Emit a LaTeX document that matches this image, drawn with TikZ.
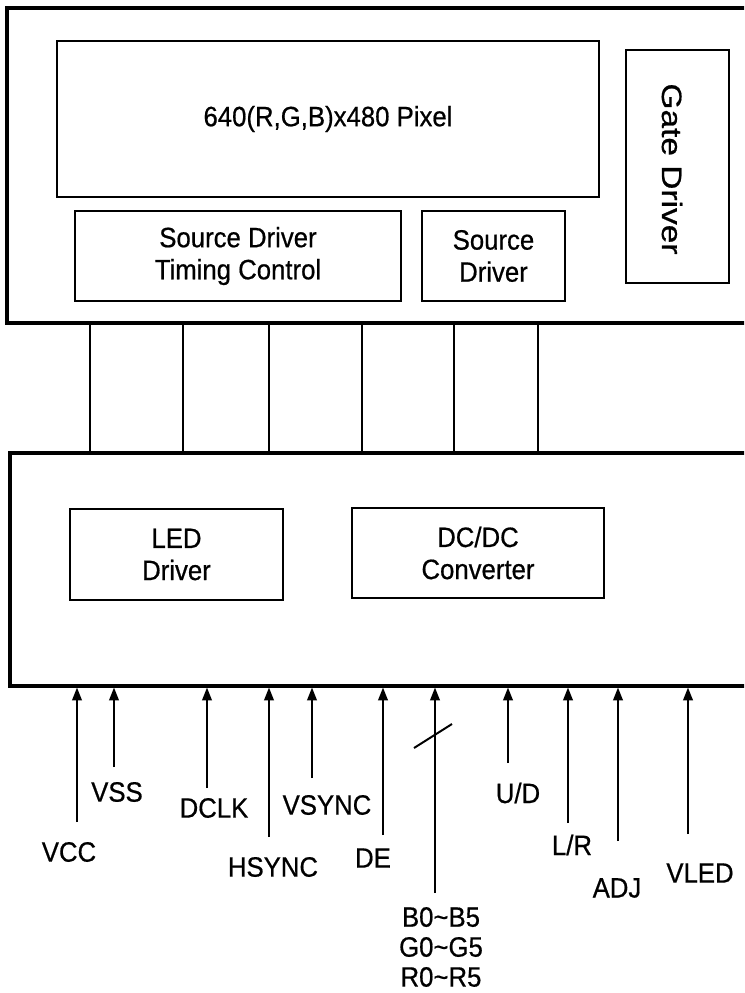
\documentclass[tikz,border=0pt]{standalone}
\usepackage{fontspec}
\setmainfont[FakeStretch=0.92,FakeBold=0.6]{Liberation Sans}
\usetikzlibrary{arrows.meta}

\tikzset{
    outerbox/.style={draw, line width=2.2pt, inner sep=0pt},
    blk/.style={draw, line width=1.8pt, inner sep=0pt, align=center, font=\fontsize{19.9}{22.8}\selectfont},
    boxsize/.style 2 args={minimum width=#1*0.025cm, minimum height=#2*0.025cm},
    lbl/.style={inner sep=0pt, align=center, font=\fontsize{19.9}{21.3}\selectfont},
    link/.style={line width=1.4pt},
    sig/.style={line width=1.4pt, ->}
}

\begin{document}
\begin{tikzpicture}[x=0.025cm,y=-0.025cm,>={Triangle[length=0.32cm,width=0.24cm]}]
    % Bounding box of the page
    \useasboundingbox (0,0) rectangle (744,993);
    \clip (0,0) rectangle (744,993);

    % Panel (upper block)
    \node[outerbox, boxsize={753}{315}] (screen) at (383.5,165.5) {};
    \node[blk, boxsize={542}{156}] (pixel) at (328,119) {640(R,G,B)x480 Pixel};
    \node[blk, boxsize={103}{233}] (gate) at (677.5,166.5) {};
    \node[lbl, rotate=-90] (gatetxt) at (672,169) {\scalebox{1.3}[1]{Gate Driver}};
    \node[blk, boxsize={326}{90}] (srctcon) at (238,256) {Source Driver\\Timing Control};
    \node[blk, boxsize={143}{90}] (srcdrv) at (493.5,256) {Source\\Driver};

    % Control board (lower block)
    \node[outerbox, boxsize={750}{233}] (ctrl) at (385,569.5) {};
    \node[blk, boxsize={213}{91}] (led) at (176.5,554.5) {LED\\Driver};
    \node[blk, boxsize={252}{90}] (dcdc) at (478,553) {DC/DC\\Converter};

    % Links between the two blocks
    \foreach \lx in {90,183,269,362,454,538} {
        \coordinate (k\lx) at (\lx,0);
        \draw[link] (screen.south -| k\lx) -- (ctrl.north -| k\lx);
    }

    % Input signals
    \coordinate (tVCC) at (77,822);
    \node[lbl] (lVCC) at (69,852) {VCC};
    \draw[sig] (tVCC) -- (tVCC |- ctrl.south);

    \coordinate (tVSS) at (114,767);
    \node[lbl] (lVSS) at (117,792) {VSS};
    \draw[sig] (tVSS) -- (tVSS |- ctrl.south);

    \coordinate (tDCLK) at (207,788);
    \node[lbl] (lDCLK) at (214,808) {DCLK};
    \draw[sig] (tDCLK) -- (tDCLK |- ctrl.south);

    \coordinate (tHSYNC) at (269,837);
    \node[lbl] (lHSYNC) at (273,867) {HSYNC};
    \draw[sig] (tHSYNC) -- (tHSYNC |- ctrl.south);

    \coordinate (tVSYNC) at (312,778);
    \node[lbl] (lVSYNC) at (327,805) {VSYNC};
    \draw[sig] (tVSYNC) -- (tVSYNC |- ctrl.south);

    \coordinate (tDE) at (383,835);
    \node[lbl] (lDE) at (373,858) {DE};
    \draw[sig] (tDE) -- (tDE |- ctrl.south);

    % RGB data bus
    \coordinate (tRGB) at (435,893);
    \node[lbl] (lRGB) at (441,947) {B0\textasciitilde B5\\G0\textasciitilde G5\\R0\textasciitilde R5};
    \draw[sig] (tRGB) -- (tRGB |- ctrl.south);
    \draw[link] (414,748) -- (452,724);

    \coordinate (tUD) at (508,763);
    \node[lbl] (lUD) at (518,793) {U/D};
    \draw[sig] (tUD) -- (tUD |- ctrl.south);

    \coordinate (tLR) at (568,823);
    \node[lbl] (lLR) at (572,845) {L/R};
    \draw[sig] (tLR) -- (tLR |- ctrl.south);

    \coordinate (tADJ) at (618,841);
    \node[lbl] (lADJ) at (617,888) {ADJ};
    \draw[sig] (tADJ) -- (tADJ |- ctrl.south);

    \coordinate (tVLED) at (688,834);
    \node[lbl] (lVLED) at (700,873) {VLED};
    \draw[sig] (tVLED) -- (tVLED |- ctrl.south);
\end{tikzpicture}
\end{document}
